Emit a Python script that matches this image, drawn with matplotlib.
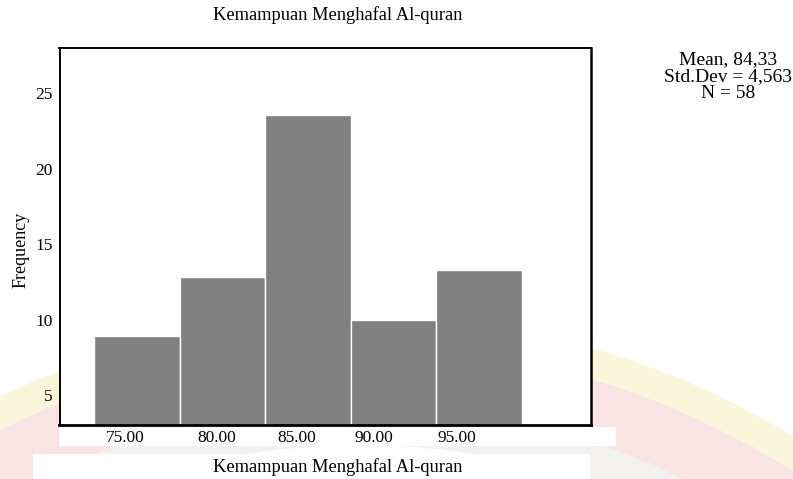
#!/usr/bin/env python3
#
# histogram of Kemampuan Menghafal Al-quran
#
import numpy as np
import matplotlib
matplotlib.use('Agg')
import matplotlib.pyplot as plt
from matplotlib.patches import Rectangle, Wedge

# data -------------------------------------------------------------------------
bin_edges = [72.5, 77.5, 82.5, 87.5, 92.5, 97.5]
freq = [8.9, 12.85, 23.57, 10.0, 13.29]
xtick_pos = [74.3, 79.68, 84.35, 88.85, 93.68]
xtick_lab = ['75.00', '80.00', '85.00', '90.00', '95.00']
ytick_pos = [5, 10, 15, 20, 25]
title = 'Kemampuan Menghafal Al-quran'
stats = ['Mean, 84,33', 'Std.Dev = 4,563', 'N = 58']

W, H = 793, 479

def fx(px): return px / W
def fy(py): return 1 - py / H

# background watermark (faint) -------------------------------------------------
def plot_watermark(fig):
    tr = fig.dpi_scale_trans
    c = (3.60, (H - 1150) / 100)
    for r, w, col in [(8.35, 0.30, '#f6e79a'), (8.05, 0.60, '#eeb4b0'),
                      (7.45, 0.40, '#ddd6d6')]:
        wd = Wedge(c, r, 0, 180, width=w, transform=tr, facecolor=col,
                   edgecolor='none', alpha=0.35, zorder=-2)
        fig.patches.append(wd)

# histogram --------------------------------------------------------------------
def plot_hist(ax):
    left = bin_edges[:-1]
    width = np.diff(bin_edges)
    ax.bar(left, freq, width=width, bottom=0, align='edge', color='#808080',
           edgecolor='white', lw=1.0, zorder=2)
    ax.set_xlim(70.46, 101.53)
    ax.set_ylim(3.04, 28.0)
    ax.set_xticks(xtick_pos)
    ax.set_xticklabels(xtick_lab)
    ax.set_yticks(ytick_pos)
    ax.tick_params(length=0, labelsize=12.5)
    ax.tick_params(axis='y', pad=5)
    ax.tick_params(axis='x', pad=4)
    for s in ax.spines.values():
        s.set_linewidth(1.4)
        s.set_zorder(3)
    ax.spines['bottom'].set_linewidth(2.0)
    ax.spines['right'].set_linewidth(1.8)
    ax.set_ylabel('Frequency', fontsize=13)
    ax.yaxis.set_label_coords(-0.056, 0.463)

# main -------------------------------------------------------------------------
def main():
    plt.rcParams['font.family'] = ['Liberation Serif', 'DejaVu Serif']
    fig = plt.figure(figsize=(W / 100, H / 100), dpi=100)
    fig.patch.set_facecolor('white')
    plot_watermark(fig)

    # white bands behind tick labels and x label
    fig.patches.append(Rectangle((fx(59), fy(446)), fx(616) - fx(59), fy(427) - fy(446),
                                 transform=fig.transFigure, facecolor='white',
                                 edgecolor='none', zorder=-1))
    fig.patches.append(Rectangle((fx(33), fy(479)), fx(590) - fx(33), fy(454) - fy(479),
                                 transform=fig.transFigure, facecolor='white',
                                 edgecolor='none', zorder=-1))

    ax = fig.add_axes((fx(59.5), fy(424.5), fx(590.7) - fx(59.5), fy(48) - fy(424.5)),
                      facecolor='w')
    plot_hist(ax)

    fig.text(fx(338), fy(15), title, ha='center', va='center', fontsize=13.3)
    fig.text(fx(338), fy(467), title, ha='center', va='center', fontsize=13.3)
    for i, s in enumerate(stats):
        fig.text(fx(728), fy(60 + 16.5 * i), s, ha='center', va='center', fontsize=14)

    fig.savefig('out.png', dpi=100, facecolor='white')

if __name__ == '__main__':
    main()
